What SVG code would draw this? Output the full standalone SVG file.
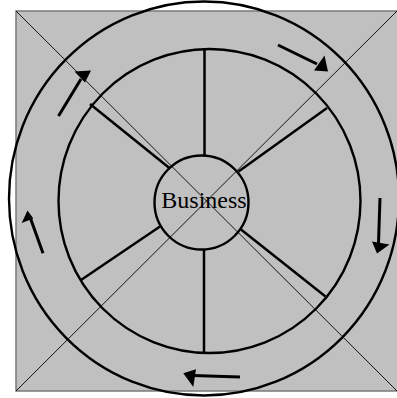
<svg xmlns="http://www.w3.org/2000/svg" width="397" height="398" viewBox="0 0 397 398">
  <style>
    .ring { fill: none; stroke: #000; stroke-width: 2.4; }
    .spoke { stroke: #000; stroke-width: 2.5; stroke-linecap: butt; }
    .diag { stroke: #000; stroke-width: 0.9; }
    .shaft { stroke: #000; stroke-width: 3; fill: none; }
    .head { fill: #000; stroke: none; }
    .label { font-family: "Liberation Serif", "Times New Roman", serif; font-size: 24px; fill: #000; }
  </style>
  <rect x="0" y="0" width="397" height="398" fill="#fff"/>
  <g id="background">
    <rect x="16" y="11" width="382" height="380" fill="#c0c0c0" stroke="#7a7a7a" stroke-width="1.5"/>
  </g>
  <g id="outer-ring">
    <ellipse class="ring" cx="204" cy="198.5" rx="195" ry="197"/>
  </g>
  <g id="inner-ring">
    <ellipse class="ring" cx="209.5" cy="201" rx="151" ry="152"/>
  </g>
  <g id="connectors">
    <line class="spoke" x1="204.5" y1="49" x2="204.5" y2="155.5"/>
    <line class="spoke" x1="204" y1="250" x2="204" y2="352.5"/>
    <line class="spoke" x1="90" y1="104" x2="170" y2="168.5"/>
    <line class="spoke" x1="327" y1="108" x2="238.5" y2="171.5"/>
    <line class="spoke" x1="81" y1="280" x2="160" y2="226.5"/>
    <line class="spoke" x1="241" y1="229.5" x2="325.5" y2="296.5"/>
    <line class="diag" x1="16" y1="11" x2="397" y2="391"/>
    <line class="diag" x1="16" y1="391" x2="397" y2="11"/>
  </g>
  <g id="hub">
    <circle class="ring" cx="201.5" cy="202.5" r="47"/>
    <text class="label" x="204" y="207.7" text-anchor="middle">Business</text>
  </g>
  <g id="arrows">
    <line class="shaft" x1="58.5" y1="116" x2="81" y2="79"/>
    <polygon class="head" points="74.5,71.5 91,70.5 85,82.5"/>
    <line class="shaft" x1="278" y1="45" x2="317" y2="64"/>
    <polygon class="head" points="314,70.5 328,71.5 324.5,55.5"/>
    <line class="shaft" x1="380" y1="198" x2="378.5" y2="243"/>
    <polygon class="head" points="372,241.5 389.5,244.5 377,253.5"/>
    <line class="shaft" x1="240" y1="377" x2="193" y2="375.5"/>
    <polygon class="head" points="183.3,373.3 196,369.3 193.3,387"/>
    <line class="shaft" x1="43" y1="253.3" x2="30" y2="217"/>
    <polygon class="head" points="21.7,223 27.5,210.5 33.3,218.5"/>
  </g>
</svg>
